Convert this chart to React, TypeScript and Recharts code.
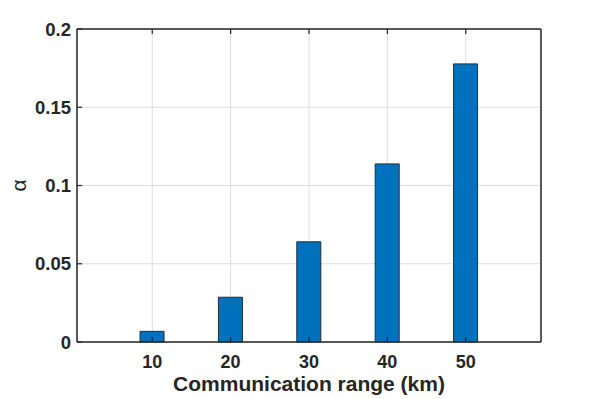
import React from 'react';
import {
  BarChart,
  Bar,
  XAxis,
  YAxis,
  CartesianGrid,
  Label,
} from 'recharts';

const ranges = [10, 20, 30, 40, 50];
const alphaValues = [0.0068, 0.0286, 0.064, 0.1138, 0.1777];
const yTicks = [0, 0.05, 0.1, 0.15, 0.2];
const yTickLabels = ['0', '0.05', '0.1', '0.15', '0.2'];

const chartData = ranges.map((r, i) => ({ range: r, alpha: alphaValues[i] }));

const axisColor = '#262626';
const font = '"Liberation Sans", Arial, Helvetica, sans-serif';
const TICK_LEN = 5;

// MATLAB style: ticks point into the plot box
const BottomTick = (props: any) => {
  const { x, y, payload } = props;
  const edge = y - 13;
  return (
    <g>
      <line x1={x} x2={x} y1={edge} y2={edge - TICK_LEN} stroke={axisColor} strokeWidth={1.2} />
      <text x={x} y={y} dy="0.71em" textAnchor="middle" fontSize={18} fontWeight={700} fill={axisColor} fontFamily={font}>
        {payload.value}
      </text>
    </g>
  );
};

const TopTick = (props: any) => {
  const { x, y } = props;
  return <line x1={x} x2={x} y1={y} y2={y + TICK_LEN} stroke={axisColor} strokeWidth={1.2} />;
};

const LeftTick = (props: any) => {
  const { x, y, payload } = props;
  const edge = x + 6;
  const idx = yTicks.indexOf(payload.value);
  return (
    <g>
      <line x1={edge} x2={edge + TICK_LEN} y1={y} y2={y} stroke={axisColor} strokeWidth={1.2} />
      <text x={x} y={y} dy="0.355em" textAnchor="end" fontSize={18.5} fontWeight={700} fill={axisColor} fontFamily={font}>
        {idx >= 0 ? yTickLabels[idx] : payload.value}
      </text>
    </g>
  );
};

const RightTick = (props: any) => {
  const { x, y } = props;
  return <line x1={x} x2={x - TICK_LEN} y1={y} y2={y} stroke={axisColor} strokeWidth={1.2} />;
};

export default function App() {
  return (
    <div style={{ position: 'absolute', left: 0, top: 0, width: 598, height: 399, background: '#fff' }}>
      <BarChart
        width={598}
        height={399}
        data={chartData}
        margin={{ top: 0, right: 0, bottom: 0, left: 0 }}
      >
        <CartesianGrid xAxisId="bottom" yAxisId="left" stroke="#dedede" strokeWidth={1} />
        <XAxis
          xAxisId="bottom"
          dataKey="range"
          type="number"
          domain={[0.4, 59.6]}
          ticks={ranges}
          allowDataOverflow
          height={57}
          stroke={axisColor}
          strokeWidth={1.5}
          tickLine={false}
          tickSize={0}
          tickMargin={13}
          tick={<BottomTick />}
        >
          <Label
            value="Communication range (km)"
            position="insideBottom"
            offset={8}
            style={{ fontSize: 21, fontWeight: 700, fill: axisColor, fontFamily: font }}
          />
        </XAxis>
        <XAxis
          xAxisId="top"
          orientation="top"
          dataKey="range"
          type="number"
          domain={[0.4, 59.6]}
          ticks={ranges}
          allowDataOverflow
          height={29}
          stroke={axisColor}
          strokeWidth={1.5}
          tickLine={false}
          tickSize={0}
          tickMargin={0}
          tick={<TopTick />}
        />
        <YAxis
          yAxisId="left"
          domain={[0, 0.2]}
          ticks={yTicks}
          width={77}
          stroke={axisColor}
          strokeWidth={1.5}
          tickLine={false}
          tickSize={0}
          tickMargin={6}
          tick={<LeftTick />}
        >
          <Label
            value="α"
            angle={-90}
            position="insideLeft"
            offset={19}
            style={{ fontSize: 21, fill: axisColor, fontFamily: font, textAnchor: 'middle' }}
          />
        </YAxis>
        <YAxis
          yAxisId="right"
          orientation="right"
          domain={[0, 0.2]}
          ticks={yTicks}
          width={57}
          stroke={axisColor}
          strokeWidth={1.5}
          tickLine={false}
          tickSize={0}
          tickMargin={0}
          tick={<RightTick />}
        />
        <Bar
          xAxisId="bottom"
          yAxisId="left"
          dataKey="alpha"
          fill="#0072BD"
          stroke="#1f2d3a"
          strokeWidth={1}
          barSize={24}
          isAnimationActive={false}
        />
      </BarChart>
    </div>
  );
}
